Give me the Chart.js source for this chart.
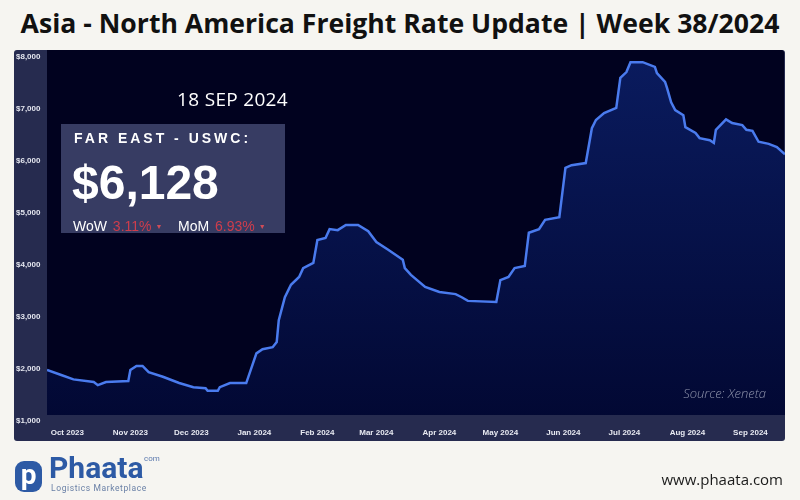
<!DOCTYPE html>
<html>
<head>
<meta charset="utf-8">
<script src="https://cdn.jsdelivr.net/npm/chart.js@4.4.1/dist/chart.umd.min.js"></script>
<style>
  body { margin: 0; background: #f6f5f1; }
  #page { position: relative; width: 800px; height: 500px; overflow: hidden; font-family: "Liberation Sans", Arial, sans-serif; }
  .title { position: absolute; left: 0; top: 10px; width: 800px; text-align: center; font: 700 26.6px/1 "Open Sans", sans-serif; color: #111; }
  .panel { position: absolute; left: 14px; top: 50px; width: 771px; height: 391px; background: #262b4f; border-radius: 3px; }
  .inner { position: absolute; left: 47px; top: 50px; width: 737px; height: 365px; background: #01021f; border-radius: 0 3px 3px 8px; }
  #chart { position: absolute; left: 0; top: 0; }
  .date { position: absolute; left: 150px; top: 90px; width: 165px; text-align: center; font: 400 19px/1 "Open Sans", sans-serif; color: #fff; letter-spacing: 0.3px; }
  .box { position: absolute; left: 61px; top: 124px; width: 224px; height: 109px; background: #373c63; color: #fff; }
  .box div { position: absolute; white-space: nowrap; }
  .lane { left: 13px; top: 7px; font: 700 14px/1 "Liberation Sans", Arial; letter-spacing: 3px; }
  .price { left: 11px; top: 35px; font: 700 48px/1 "Liberation Sans", Arial; }
  .chg { left: 12px; top: 95px; font: 400 14px/1 "Liberation Sans", Arial; }
  .chg .red { color: #cf3d4c; margin-left: 2px; }
  .chg .tri { color: #cf4c58; font-size: 7px; vertical-align: 2px; margin-left: 4px; }
  .source { position: absolute; right: 34px; top: 387px; font: italic 300 13px/1 "Open Sans", sans-serif; color: #8e93ab; }
  .logo-icon { position: absolute; left: 15px; top: 461px; width: 27px; height: 31px; background: #2d5aa5; border-radius: 9px; color: #fff; font: 700 28px/27px "Roboto", sans-serif; text-align: center; }
  .logo-name { position: absolute; left: 49px; top: 453px; font: 700 30px/1 "Roboto", sans-serif; color: #2d5aa5; }
  .logo-com { position: absolute; left: 144px; top: 455px; font: 400 8px/1 "Roboto", sans-serif; color: #5a78ad; }
  .logo-sub { position: absolute; left: 51px; top: 484px; font: 400 8.5px/1 "Roboto", sans-serif; color: #6a80a6; letter-spacing: 0.6px; }
  .url { position: absolute; right: 17px; top: 472px; font: 400 15px/1 "Open Sans", sans-serif; color: #1a1a1a; }
</style>
</head>
<body>
<div id="page">
  <div class="title">Asia - North America Freight Rate Update | Week 38/2024</div>
  <div class="panel"></div>
  <div class="inner"></div>
  <canvas id="chart" width="800" height="500"></canvas>
  <div class="date">18 SEP 2024</div>
  <div class="box">
    <div class="lane">FAR EAST - USWC:</div>
    <div class="price">$6,128</div>
    <div class="chg">WoW <span class="red">3.11%</span><span class="tri">▼</span>&nbsp;&nbsp;&nbsp; MoM <span class="red">6.93%</span><span class="tri">▼</span></div>
  </div>
  <div class="source">Source: Xeneta</div>
  <div class="logo-icon">p</div>
  <div class="logo-name">Phaata</div>
  <div class="logo-com">com</div>
  <div class="logo-sub">Logistics Marketplace</div>
  <div class="url">www.phaata.com</div>
</div>
<script>
// Far East - USWC spot rate, USD per FEU
const dates = [
  '2023-09-21', '2023-09-28', '2023-10-04', '2023-10-14', '2023-10-16', '2023-10-20', '2023-10-31',
  '2023-11-01', '2023-11-04', '2023-11-07', '2023-11-10', '2023-11-17', '2023-11-25',
  '2023-12-02', '2023-12-08', '2023-12-09', '2023-12-14', '2023-12-15', '2023-12-20', '2023-12-28',
  '2024-01-02', '2024-01-05', '2024-01-10', '2024-01-12', '2024-01-13', '2024-01-16', '2024-01-19',
  '2024-01-23', '2024-01-25', '2024-01-30',
  '2024-02-01', '2024-02-05', '2024-02-07', '2024-02-11', '2024-02-15', '2024-02-21', '2024-02-26',
  '2024-03-01', '2024-03-07', '2024-03-14', '2024-03-15', '2024-03-18', '2024-03-25',
  '2024-04-01', '2024-04-09', '2024-04-12', '2024-04-15', '2024-04-29',
  '2024-05-01', '2024-05-05', '2024-05-08', '2024-05-13', '2024-05-15', '2024-05-20', '2024-05-23', '2024-05-30',
  '2024-06-02', '2024-06-05', '2024-06-12', '2024-06-15', '2024-06-17', '2024-06-21', '2024-06-27', '2024-06-29',
  '2024-07-02', '2024-07-04', '2024-07-10', '2024-07-16', '2024-07-17', '2024-07-21', '2024-07-22',
  '2024-07-24', '2024-07-26', '2024-07-30', '2024-07-31',
  '2024-08-05', '2024-08-07', '2024-08-12', '2024-08-14', '2024-08-15', '2024-08-20', '2024-08-23',
  '2024-08-28', '2024-08-30',
  '2024-09-02', '2024-09-05', '2024-09-10', '2024-09-14', '2024-09-18'
];
const rates = [
  1980, 1885, 1800, 1750, 1690, 1750, 1770,
  1980, 2060, 2060, 1940, 1850, 1730,
  1650, 1630, 1580, 1580, 1650, 1730, 1730,
  2300, 2380, 2420, 2520, 2940, 3380, 3620,
  3770, 3940, 4040,
  4480, 4520, 4690, 4670, 4770, 4770, 4650,
  4440, 4290, 4100, 3940, 3810, 3580,
  3480, 3440, 3380, 3310, 3290,
  3710, 3770, 3940, 3980, 4620, 4690, 4870, 4920,
  5870, 5920, 5960, 6630, 6790, 6920, 7020, 7600,
  7710, 7900, 7900, 7810, 7690, 7520, 7400,
  7130, 6980, 6880, 6650,
  6540, 6440, 6400, 6350, 6600, 6800, 6730,
  6690, 6600,
  6580, 6370, 6330, 6270, 6128
];
const monthStarts = ['2023-10-01', '2023-11-01', '2023-12-01', '2024-01-01', '2024-02-01', '2024-03-01',
  '2024-04-01', '2024-05-01', '2024-06-01', '2024-07-01', '2024-08-01', '2024-09-01'];
const monthLabels = ['Oct 2023', 'Nov 2023', 'Dec 2023', 'Jan 2024', 'Feb 2024', 'Mar 2024',
  'Apr 2024', 'May 2024', 'Jun 2024', 'Jul 2024', 'Aug 2024', 'Sep 2024'];
const yMin = 1000, yMax = 8000, yStep = 1000;

// day number from 'YYYY-MM-DD'
function day(s) {
  const p = s.split('-').map(Number);
  return Date.UTC(p[0], p[1] - 1, p[2]) / 86400000;
}

const points = dates.map((d, i) => ({ x: day(d), y: rates[i] }));

const ctx = document.getElementById('chart').getContext('2d');
new Chart(ctx, {
  type: 'line',
  data: {
    datasets: [{
      data: points,
      borderColor: '#4a7bee',
      borderWidth: 2.5,
      pointRadius: 0,
      tension: 0,
      fill: { value: 1115 },
      backgroundColor: function (c) {
        const a = c.chart.chartArea;
        if (!a) return 'rgba(10,30,100,0.5)';
        const g = c.chart.ctx.createLinearGradient(0, a.top, 0, a.bottom);
        g.addColorStop(0, '#0a1b5e');
        g.addColorStop(1, '#020833');
        return g;
      }
    }]
  },
  options: {
    responsive: false,
    animation: false,
    layout: { padding: { left: 16, right: 15, top: 57, bottom: 59 } },
    plugins: { legend: { display: false }, tooltip: { enabled: false } },
    scales: {
      x: {
        type: 'linear',
        min: day(dates[0]),
        max: day(dates[dates.length - 1]),
        grid: { display: false, drawTicks: false },
        border: { display: false },
        afterBuildTicks: function (scale) {
          scale.ticks = monthStarts.map(s => ({ value: day(s) }));
        },
        afterFit: function (scale) { scale.height = 20; },
        ticks: {
          autoSkip: false,
          maxRotation: 0,
          padding: 7,
          color: '#e8eaf2',
          font: { family: 'Liberation Sans', size: 8, weight: 'bold' },
          callback: function (v, i) { return monthLabels[i]; }
        }
      },
      y: {
        min: yMin,
        max: yMax,
        grid: { display: false, drawTicks: false },
        border: { display: false },
        afterFit: function (scale) { scale.width = 31; },
        ticks: {
          stepSize: yStep,
          crossAlign: 'far',
          color: '#e4e6ef',
          font: { family: 'Liberation Sans', size: 8, weight: 'bold' },
          callback: function (v) { return '$' + v.toLocaleString('en-US'); }
        }
      }
    }
  }
});
</script>
</body>
</html>
